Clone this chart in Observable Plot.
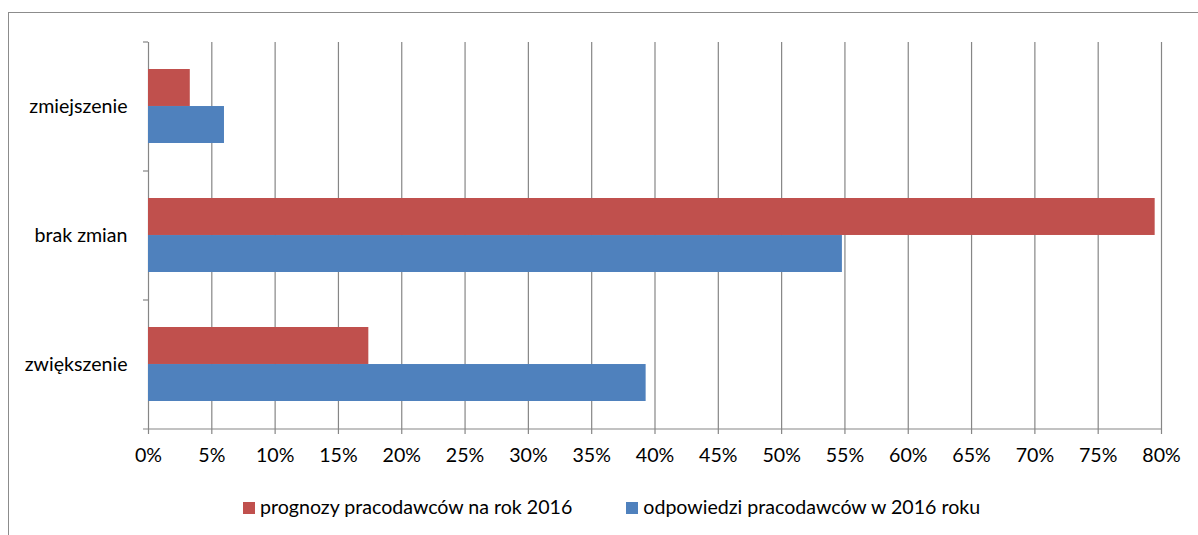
<!DOCTYPE html>
<html>
<head>
<meta charset="utf-8">
<script src="https://cdn.jsdelivr.net/npm/d3@7"></script>
<script src="https://cdn.jsdelivr.net/npm/@observablehq/plot@0.6"></script>
<style>
  html, body { margin: 0; padding: 0; background: #fff; }
  body { width: 1198px; height: 535px; position: relative; overflow: hidden; font-family: Lato, "Open Sans", sans-serif; }
  #border { position: absolute; left: 8px; top: 12px; width: 1400px; height: 700px; border-left: 1.5px solid #8c8c8c; border-top: 1.5px solid #8c8c8c; box-sizing: border-box; }
  #chart { position: absolute; left: 0; top: 0; }
  #legend { position: absolute; left: 243px; top: 495px; display: flex; gap: 54px; font-size: 19.6px; color: #000; }
  .item { display: flex; align-items: center; white-space: nowrap; }
  .sw { width: 12px; height: 12px; margin-right: 5px; margin-top: 3px; }
</style>
</head>
<body>
<div id="border"></div>
<div id="chart"></div>
<div id="legend"></div>
<script>
// Categories (top to bottom)
const categories = ["zmiejszenie", "brak zmian", "zwiększenie"];
// Series values (%)
const seriesNames = ["prognozy pracodawców na rok 2016", "odpowiedzi pracodawców w 2016 roku"];
const prognozy = [3.3, 79.5, 17.4];
const odpowiedzi = [6.0, 54.8, 39.3];
const seriesColors = ["#C0504D", "#4F81BD"];
// X tick values
const xTicks = [0, 5, 10, 15, 20, 25, 30, 35, 40, 45, 50, 55, 60, 65, 70, 75, 80];

const W = 1198, H = 480;
const mTop = 42, mBottom = 51, mLeft = 148, mRight = 37;
const pInner = 0.426, pOuter = 0.213;
const step = (H - mTop - mBottom) / categories.length;
const bw = step * (1 - pInner);

const data = [];
categories.forEach((c, i) => {
  data.push({cat: c, series: seriesNames[0], value: prognozy[i]});
  data.push({cat: c, series: seriesNames[1], value: odpowiedzi[i]});
});

const grid = "#868686";
const fs = 19.6;

const chart = Plot.plot({
  width: W,
  height: H,
  marginTop: mTop,
  marginBottom: mBottom,
  marginLeft: mLeft,
  marginRight: mRight,
  style: { fontFamily: "Lato, 'Open Sans', sans-serif", fontSize: fs + "px", color: "#000", background: "transparent" },
  x: { domain: [0, 80], axis: null },
  y: { domain: categories, paddingInner: pInner, paddingOuter: pOuter, axis: null },
  color: { domain: seriesNames, range: seriesColors },
  marks: [
    Plot.ruleX(xTicks, { x: d => d, stroke: grid, strokeWidth: 1.2 }),
    Plot.barX(data.filter(d => d.series === seriesNames[0]), {
      x: "value", y: "cat", fill: seriesColors[0], insetBottom: bw / 2
    }),
    Plot.barX(data.filter(d => d.series === seriesNames[1]), {
      x: "value", y: "cat", fill: seriesColors[1], insetTop: bw / 2
    }),
    // bottom axis line (with left tick)
    Plot.ruleY([categories[categories.length - 1]], {
      y: d => d, dy: step / 2, x1: 0, x2: 80, insetLeft: -5, stroke: grid, strokeWidth: 1.2
    }),
    // category boundary ticks on y axis
    Plot.ruleY(categories, {
      y: d => d, dy: -step / 2, x1: 0, x2: 0, insetLeft: -5, stroke: grid, strokeWidth: 1.2
    }),
    Plot.axisX({
      ticks: xTicks, tickFormat: d => d + "%", tickSize: 5, tickPadding: 14,
      stroke: grid, fill: "#000", strokeWidth: 1.2, label: null, fontSize: fs
    }),
    Plot.axisY({
      tickSize: 0, tickPadding: 21, fill: "#000", label: null, fontSize: fs
    })
  ]
});
document.getElementById("chart").appendChild(chart);

const legend = document.getElementById("legend");
seriesNames.forEach((name, i) => {
  const item = document.createElement("div");
  item.className = "item";
  const sw = document.createElement("span");
  sw.className = "sw";
  sw.style.background = seriesColors[i];
  const t = document.createElement("span");
  t.textContent = name;
  item.appendChild(sw);
  item.appendChild(t);
  legend.appendChild(item);
});
</script>
</body>
</html>
